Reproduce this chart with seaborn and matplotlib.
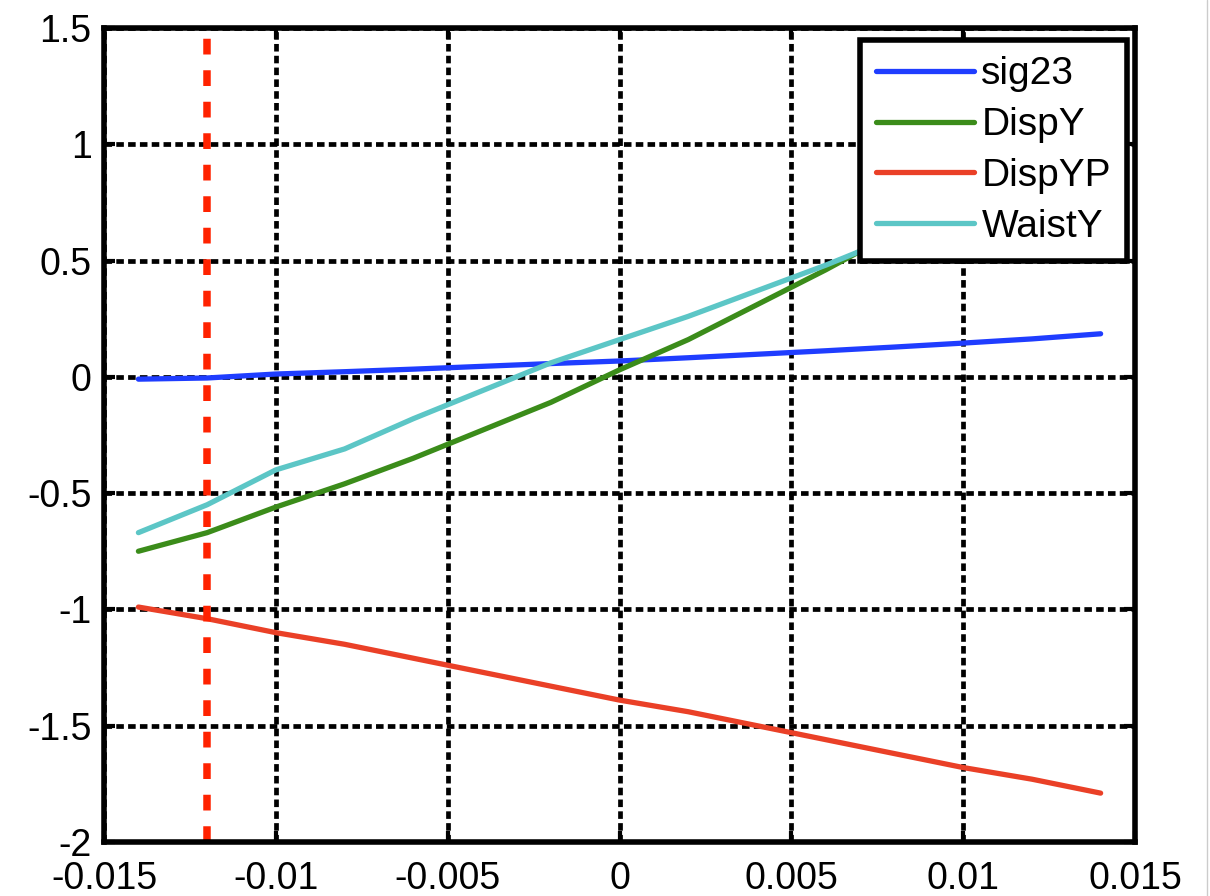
import numpy as np
import pandas as pd
import matplotlib
matplotlib.use("Agg")
import matplotlib.pyplot as plt
import seaborn as sns
from matplotlib.lines import Line2D

x_vals = [-0.014, -0.012, -0.010, -0.008, -0.006, -0.004, -0.002, 0.0,
          0.002, 0.004, 0.006, 0.008, 0.010, 0.012, 0.014]
sig23 = [-0.01, -0.005, 0.012, 0.022, 0.033, 0.045, 0.057, 0.068,
         0.082, 0.097, 0.112, 0.128, 0.145, 0.163, 0.185]
disp_y = [-0.75, -0.67, -0.56, -0.46, -0.35, -0.23, -0.11, 0.03,
          0.16, 0.31, 0.46, 0.62, 0.79, 0.97, 1.15]
disp_yp = [-0.99, -1.04, -1.10, -1.15, -1.21, -1.27, -1.33, -1.39,
           -1.44, -1.50, -1.56, -1.62, -1.68, -1.73, -1.79]
waist_y = [-0.67, -0.55, -0.40, -0.31, -0.18, -0.06, 0.06, 0.16,
           0.26, 0.37, 0.48, 0.60, 0.73, 0.86, 0.99]
series_names = ["sig23", "DispY", "DispYP", "WaistY"]
colors = ["#1f3dff", "#3b8c1a", "#ea4027", "#5cc6c6"]
vline_x = -0.012
x_ticks = [-0.015, -0.01, -0.005, 0, 0.005, 0.01, 0.015]
x_tick_labels = ["-0.015", "-0.01", "-0.005", "0", "0.005", "0.01", "0.015"]
y_ticks = [-2, -1.5, -1, -0.5, 0, 0.5, 1, 1.5]
y_tick_labels = ["-2", "-1.5", "-1", "-0.5", "0", "0.5", "1", "1.5"]

sns.set_theme(style="white")
plt.rcParams['font.family'] = ['Liberation Sans', 'DejaVu Sans']
plt.rcParams['axes.unicode_minus'] = False
plt.rcParams['text.color'] = 'black'

rows = []
for name, vals in zip(series_names, [sig23, disp_y, disp_yp, waist_y]):
    for xv, yv in zip(x_vals, vals):
        rows.append({"x": xv, "y": yv, "series": name})
df = pd.DataFrame(rows)

fig = plt.figure(figsize=(12.10, 8.96), dpi=100)
ax = fig.add_axes([0.0860, 0.0603, 0.8520, 0.9085])

sns.lineplot(data=df, x="x", y="y", hue="series", hue_order=series_names,
             palette=colors, linewidth=3.8, ax=ax, legend=False, zorder=3,
             estimator=None, sort=False)

ax.axvline(vline_x, color="#ff2200", linewidth=5.4,
           linestyle=(0, (2.1, 2.1)), dash_capstyle="butt", zorder=4)

ax.set_xlim(-0.015, 0.015)
ax.set_ylim(-2, 1.5)
ax.set_xticks(x_ticks)
ax.set_xticklabels(x_tick_labels)
ax.set_yticks(y_ticks)
ax.set_yticklabels(y_tick_labels)
ax.set_xlabel("")
ax.set_ylabel("")

ax.grid(True, color="black", linewidth=3.4, linestyle=(0, (1.6, 0.9)), zorder=1)
ax.set_axisbelow(True)
for sp in ax.spines.values():
    sp.set_visible(True)
    sp.set_color("black")
    sp.set_linewidth(4.0)
    sp.set_zorder(6)

ax.tick_params(axis="both", direction="in", length=8, width=3,
               labelsize=27, colors="black", top=True, right=True,
               bottom=True, left=True)
ax.tick_params(axis="x", pad=14)
ax.tick_params(axis="y", pad=9)

handles = [Line2D([0], [0], color=c, linewidth=3.8) for c in colors]
leg = ax.legend(handles, series_names, loc="upper right",
                bbox_to_anchor=(0.9925, 0.985), fontsize=28,
                frameon=True, fancybox=False, framealpha=1.0,
                edgecolor="black", facecolor="white",
                handlelength=2.5, handletextpad=0.2, labelspacing=0.38,
                borderpad=0.42, borderaxespad=0.0)
leg.get_frame().set_linewidth(4.0)
leg.set_zorder(10)
for t in leg.get_texts():
    t.set_color("black")

fig.add_artist(Line2D([1207 / 1210, 1207 / 1210], [0, 1], color="#cccccc",
                      linewidth=1.0, transform=fig.transFigure))

fig.savefig("out.png", dpi=100, facecolor="white")
